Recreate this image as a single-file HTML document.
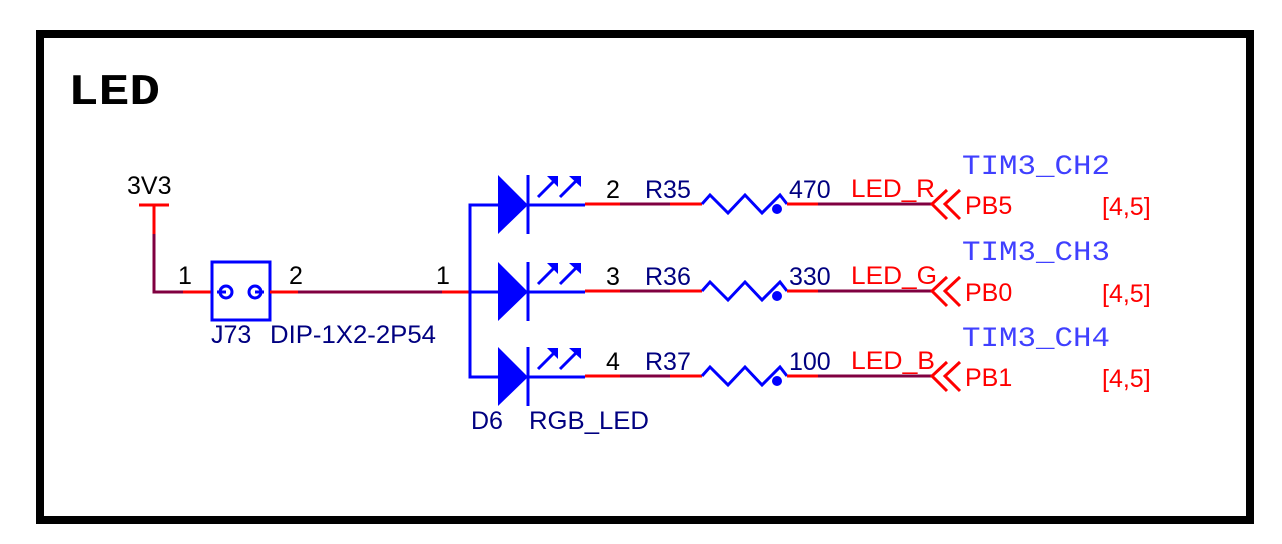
<!DOCTYPE html>
<html><head><meta charset="utf-8"><style>
html,body{margin:0;padding:0;background:#fff;}
svg{display:block}
</style></head><body>
<svg width="1282" height="544" viewBox="0 0 1282 544" xmlns="http://www.w3.org/2000/svg">
<defs>
<g id="row" font-family="Liberation Sans, sans-serif" font-size="25">
<line x1="470" y1="205" x2="498" y2="205" stroke="#00f" stroke-width="3"/>
<polygon points="498,175 528,205 498,234" fill="#00f"/>
<line x1="528" y1="175" x2="528" y2="234" stroke="#00f" stroke-width="3"/>
<line x1="528" y1="205" x2="585" y2="205" stroke="#00f" stroke-width="3"/>
<path d="M538,197 L556,179 M560,197 L578,179" stroke="#00f" stroke-width="3" fill="none"/>
<polygon points="547,176 558,176 558,187" fill="#00f"/><polygon points="569,176 581,176 581,187" fill="#00f"/>
<line x1="585" y1="204" x2="620" y2="204" stroke="#f00" stroke-width="3"/>
<line x1="620" y1="204" x2="670" y2="204" stroke="#800040" stroke-width="3"/>
<line x1="670" y1="204" x2="702" y2="204" stroke="#f00" stroke-width="3"/>
<polyline points="702,204 710,195 728,213 745,195 762,213 780,195 787,204" fill="none" stroke="#00f" stroke-width="3"/>
<circle cx="777" cy="209" r="5" fill="#00f"/>
<line x1="787" y1="204" x2="818" y2="204" stroke="#f00" stroke-width="3"/>
<line x1="818" y1="204" x2="932" y2="204" stroke="#800040" stroke-width="3"/>
<path d="M947,190 L932,204 L947,219 M960,190 L945,204 L960,219" stroke="#f00" stroke-width="3" fill="none"/>
</g>
</defs>
<rect x="0" y="0" width="1282" height="544" fill="#fff"/>
<rect x="40" y="34" width="1210" height="486" fill="none" stroke="#000" stroke-width="8"/>
<text x="68" y="104" font-family="Liberation Mono, monospace" font-weight="bold" font-size="44" fill="#000" textLength="92" lengthAdjust="spacingAndGlyphs">LED</text>

<line x1="139" y1="205" x2="169" y2="205" stroke="#f00" stroke-width="3"/>
<line x1="154" y1="205" x2="154" y2="234" stroke="#f00" stroke-width="3"/>
<polyline points="154,234 154,292 183,292" fill="none" stroke="#800040" stroke-width="3"/>
<line x1="183" y1="292" x2="212" y2="292" stroke="#f00" stroke-width="3"/>
<rect x="212" y="262" width="58" height="58" fill="none" stroke="#00f" stroke-width="3"/>
<circle cx="226" cy="292" r="6" fill="none" stroke="#00f" stroke-width="3"/>
<circle cx="255" cy="292" r="6" fill="none" stroke="#00f" stroke-width="3"/>
<line x1="217" y1="292" x2="226" y2="292" stroke="#00f" stroke-width="3"/>
<line x1="255" y1="292" x2="264" y2="292" stroke="#00f" stroke-width="3"/>
<line x1="270" y1="292" x2="298" y2="292" stroke="#f00" stroke-width="3"/>
<line x1="298" y1="292" x2="442" y2="292" stroke="#800040" stroke-width="3"/>
<line x1="442" y1="292" x2="470" y2="292" stroke="#f00" stroke-width="3"/>
<polyline points="498,205 470,205 470,377 498,377" fill="none" stroke="#00f" stroke-width="3"/>

<g font-family="Liberation Sans, sans-serif" font-size="25">
<text x="127" y="194" fill="#000">3V3</text>
<text x="178" y="284" fill="#000">1</text>
<text x="289" y="284" fill="#000">2</text>
<text x="436" y="284" fill="#000">1</text>
<text x="211" y="343" fill="#000080">J73</text>
<text x="270" y="343" fill="#000080" textLength="166" lengthAdjust="spacingAndGlyphs">DIP-1X2-2P54</text>
<text x="471" y="429" fill="#000080">D6</text>
<text x="529" y="429" fill="#000080" textLength="120" lengthAdjust="spacingAndGlyphs">RGB_LED</text>
</g>

<use href="#row"/>
<use href="#row" y="87"/>
<use href="#row" y="172"/>

<g font-family="Liberation Sans, sans-serif" font-size="25">
<text x="606" y="198" fill="#000">2</text>
<text x="645" y="198" fill="#000080">R35</text>
<text x="789" y="198" fill="#000080">470</text>
<text x="851" y="197" fill="#f00" textLength="84" lengthAdjust="spacingAndGlyphs">LED_R</text>
<text x="965" y="214" fill="#f00">PB5</text>
<text x="1102" y="215" fill="#f00">[4,5]</text>

<text x="606" y="285" fill="#000">3</text>
<text x="645" y="285" fill="#000080">R36</text>
<text x="789" y="285" fill="#000080">330</text>
<text x="851" y="284" fill="#f00" textLength="86" lengthAdjust="spacingAndGlyphs">LED_G</text>
<text x="965" y="301" fill="#f00">PB0</text>
<text x="1102" y="302" fill="#f00">[4,5]</text>

<text x="606" y="370" fill="#000">4</text>
<text x="645" y="370" fill="#000080">R37</text>
<text x="789" y="370" fill="#000080">100</text>
<text x="851" y="369" fill="#f00" textLength="84" lengthAdjust="spacingAndGlyphs">LED_B</text>
<text x="965" y="386" fill="#f00">PB1</text>
<text x="1102" y="387" fill="#f00">[4,5]</text>
</g>
<g font-family="Liberation Mono, monospace" font-size="28" fill="#4040ff">
<text x="962" y="174" textLength="148" lengthAdjust="spacingAndGlyphs">TIM3_CH2</text>
<text x="962" y="260" textLength="148" lengthAdjust="spacingAndGlyphs">TIM3_CH3</text>
<text x="962" y="346" textLength="148" lengthAdjust="spacingAndGlyphs">TIM3_CH4</text>
</g>
</svg>
</body></html>
